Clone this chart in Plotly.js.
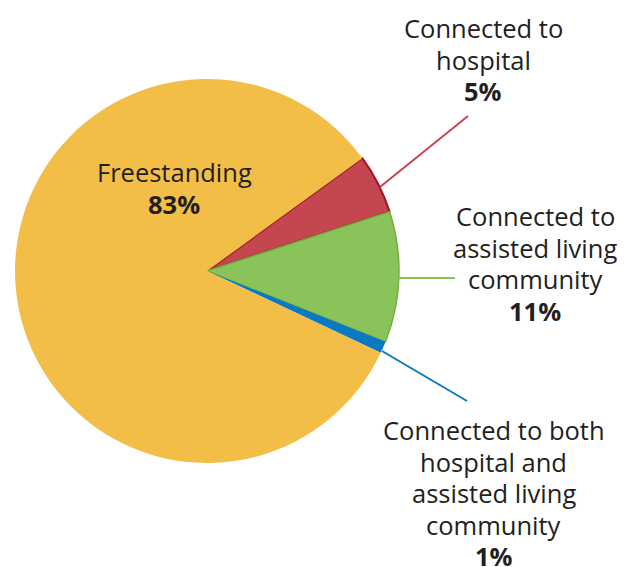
<!DOCTYPE html>
<html>
<head>
<meta charset="utf-8">
<script src="https://cdn.plot.ly/plotly-3.0.1.min.js"></script>
<style>html,body{margin:0;padding:0;background:#fff;}#chart{width:631px;height:567px;}</style>
</head>
<body>
<div id="chart"></div>
<script>
// Data
var labels = ["Connected to hospital", "Connected to assisted living community", "Connected to both hospital and assisted living community", "Freestanding"];
var values = [5, 11, 1, 83];
var sliceColors = ["#C4464F", "#8BC35B", "#0A78C2", "#F2BE47"];
var outlineColors = ["#A5102E", "#6CB33F", "#0A78C2", "#F2BE47"];
var labelLines = [
  ["Connected to", "hospital"],
  ["Connected to", "assisted living", "community"],
  ["Connected to both", "hospital and", "assisted living", "community"],
  ["Freestanding"]
];
var pctText = ["5%", "11%", "1%", "83%"];

var W = 631, H = 567;
function px(x){ return x / W; }
function py(y){ return 1 - y / H; }

var trace = {
  type: "pie",
  labels: labels,
  values: values,
  sort: false,
  direction: "clockwise",
  rotation: 54,
  textinfo: "none",
  hoverinfo: "none",
  marker: { colors: sliceColors, line: { color: outlineColors, width: [2, 1.5, 0, 0] } },
  domain: { x: [px(15), px(399)], y: [py(463), py(79)] },
  showlegend: false
};

// label block layout: center x, first line y, line step
var labelPos = [[483, 28], [535, 216], [494, 430], [174, 172]];
var lineStep = 31.6;
var font = { family: "Open Sans, Noto Sans, sans-serif", size: 25.5, color: "#231F20" };
var annotations = [];
labels.forEach(function(l, i){
  var lines = labelLines[i].concat(["<b>" + pctText[i] + "</b>"]);
  lines.forEach(function(t, k){
    annotations.push({
      xref: "paper", yref: "paper",
      x: px(labelPos[i][0]), y: py(labelPos[i][1] + k * lineStep),
      xanchor: "center", yanchor: "middle",
      showarrow: false, align: "center",
      text: t, font: font
    });
  });
});

var leaders = [
  [[380, 187], [468, 116], sliceColors[0]],
  [[399, 278], [455, 278], sliceColors[1]],
  [[382, 351], [467, 401], sliceColors[2]]
];
var shapes = leaders.map(function(s){
  return { type: "line", xref: "paper", yref: "paper",
    x0: px(s[0][0]), y0: py(s[0][1]), x1: px(s[1][0]), y1: py(s[1][1]),
    line: { color: s[2], width: 2 } };
});

Plotly.newPlot("chart", [trace], {
  width: W, height: H,
  margin: { l: 0, r: 0, t: 0, b: 0 },
  paper_bgcolor: "#ffffff",
  showlegend: false,
  annotations: annotations,
  shapes: shapes
}, { displayModeBar: false, staticPlot: true });
</script>
</body>
</html>
